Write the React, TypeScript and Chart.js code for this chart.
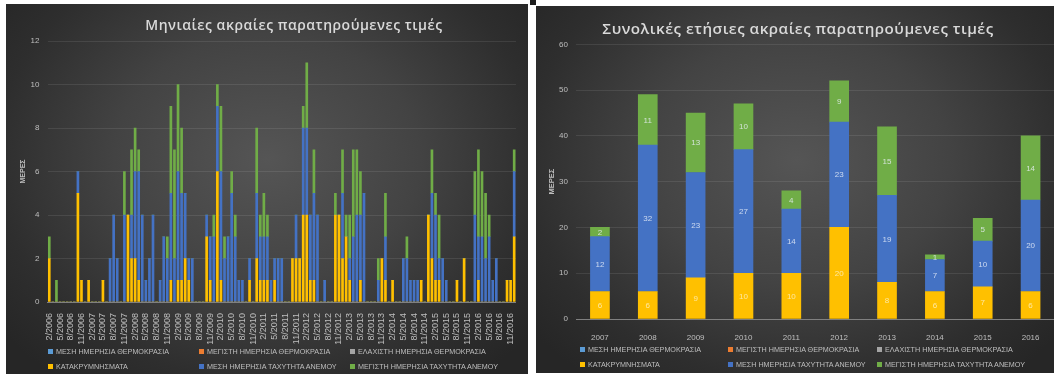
import React, { useEffect, useRef } from 'react';
import { Chart, registerables } from 'chart.js';

Chart.register(...registerables);

const FONT = '"Liberation Sans", Arial, sans-serif';
const TITLE_FONT = '"Open Sans", "Noto Sans", sans-serif';

// ---------- Monthly chart data (2/2006 .. 12/2016) ----------
const MONTHS = [
  '2/2006', '3/2006', '4/2006', '5/2006', '6/2006', '7/2006', '8/2006', '9/2006', '10/2006', '11/2006', '12/2006',
  '1/2007', '2/2007', '3/2007', '4/2007', '5/2007', '6/2007', '7/2007', '8/2007', '9/2007', '10/2007', '11/2007', '12/2007',
  '1/2008', '2/2008', '3/2008', '4/2008', '5/2008', '6/2008', '7/2008', '8/2008', '9/2008', '10/2008', '11/2008', '12/2008',
  '1/2009', '2/2009', '3/2009', '4/2009', '5/2009', '6/2009', '7/2009', '8/2009', '9/2009', '10/2009', '11/2009', '12/2009',
  '1/2010', '2/2010', '3/2010', '4/2010', '5/2010', '6/2010', '7/2010', '8/2010', '9/2010', '10/2010', '11/2010', '12/2010',
  '1/2011', '2/2011', '3/2011', '4/2011', '5/2011', '6/2011', '7/2011', '8/2011', '9/2011', '10/2011', '11/2011', '12/2011',
  '1/2012', '2/2012', '3/2012', '4/2012', '5/2012', '6/2012', '7/2012', '8/2012', '9/2012', '10/2012', '11/2012', '12/2012',
  '1/2013', '2/2013', '3/2013', '4/2013', '5/2013', '6/2013', '7/2013', '8/2013', '9/2013', '10/2013', '11/2013', '12/2013',
  '1/2014', '2/2014', '3/2014', '4/2014', '5/2014', '6/2014', '7/2014', '8/2014', '9/2014', '10/2014', '11/2014', '12/2014',
  '1/2015', '2/2015', '3/2015', '4/2015', '5/2015', '6/2015', '7/2015', '8/2015', '9/2015', '10/2015', '11/2015', '12/2015',
  '1/2016', '2/2016', '3/2016', '4/2016', '5/2016', '6/2016', '7/2016', '8/2016', '9/2016', '10/2016', '11/2016', '12/2016',
];

const PRECIP_M = [
  2, 0, 0, 0, 0, 0, 0, 0, 5, 1, 0,
  1, 0, 0, 0, 1, 0, 0, 0, 0, 0, 0, 4,
  2, 2, 1, 0, 0, 0, 0, 0, 0, 0, 0, 1,
  0, 1, 1, 2, 1, 0, 0, 0, 0, 3, 1, 0,
  6, 1, 0, 0, 0, 0, 0, 0, 0, 1, 0, 2,
  1, 1, 1, 0, 1, 0, 0, 0, 0, 2, 2, 2,
  4, 4, 1, 1, 0, 0, 0, 0, 0, 4, 4, 2,
  3, 1, 0, 0, 1, 0, 0, 0, 0, 0, 2, 1,
  0, 1, 0, 0, 0, 0, 0, 0, 0, 1, 0, 4,
  2, 1, 1, 0, 0, 0, 0, 1, 0, 2, 0, 0,
  0, 1, 0, 0, 0, 0, 0, 0, 0, 1, 1, 3,
];

const WIND_MEAN_M = [
  0, 0, 0, 0, 0, 0, 0, 0, 1, 0, 0,
  0, 0, 0, 0, 0, 0, 2, 4, 2, 0, 4, 0,
  2, 4, 5, 4, 1, 2, 4, 0, 1, 3, 2, 4,
  2, 5, 4, 3, 1, 2, 0, 0, 0, 1, 2, 3,
  3, 5, 2, 3, 5, 3, 1, 1, 0, 1, 0, 3,
  2, 2, 2, 1, 1, 2, 2, 0, 0, 0, 2, 0,
  4, 4, 3, 4, 4, 0, 1, 0, 0, 0, 0, 3,
  0, 1, 3, 4, 3, 5, 0, 0, 0, 1, 0, 2,
  0, 0, 0, 0, 2, 2, 1, 1, 1, 0, 0, 0,
  3, 3, 1, 2, 1, 0, 0, 0, 0, 0, 0, 0,
  4, 2, 3, 2, 3, 1, 2, 0, 0, 0, 0, 3,
];

const WIND_MAX_M = [
  1, 0, 1, 0, 0, 0, 0, 0, 0, 0, 0,
  0, 0, 0, 0, 0, 0, 0, 0, 0, 0, 2, 0,
  3, 2, 1, 0, 0, 0, 0, 0, 0, 0, 1, 4,
  5, 4, 3, 0, 0, 0, 0, 0, 0, 0, 0, 1,
  1, 3, 1, 0, 1, 1, 0, 0, 0, 0, 0, 3,
  1, 2, 1, 0, 0, 0, 0, 0, 0, 0, 0, 0,
  1, 3, 0, 2, 0, 0, 0, 0, 0, 1, 0, 2,
  1, 2, 4, 3, 2, 0, 0, 0, 0, 1, 0, 2,
  0, 0, 0, 0, 0, 1, 0, 0, 0, 0, 0, 0,
  2, 1, 2, 0, 0, 0, 0, 0, 0, 0, 0, 0,
  2, 4, 3, 3, 1, 0, 0, 0, 0, 0, 0, 1,
];

const MONTHLY_Y_TICKS = [0, 2, 4, 6, 8, 10, 12];

// ---------- Yearly chart data ----------
const YEARS = ['2007', '2008', '2009', '2010', '2011', '2012', '2013', '2014', '2015', '2016'];
const PRECIP_Y = [6, 6, 9, 10, 10, 20, 8, 6, 7, 6];
const WIND_MEAN_Y = [12, 32, 23, 27, 14, 23, 19, 7, 10, 20];
const WIND_MAX_Y = [2, 11, 13, 10, 4, 9, 15, 1, 5, 14];
const YEARLY_Y_TICKS = [0, 10, 20, 30, 40, 50, 60];

// ---------- Legend ----------
const SERIES_NAMES = [
  'ΜΕΣΗ ΗΜΕΡΗΣΙΑ ΘΕΡΜΟΚΡΑΣΙΑ',
  'ΜΕΓΙΣΤΗ ΗΜΕΡΗΣΙΑ ΘΕΡΜΟΚΡΑΣΙΑ',
  'ΕΛΑΧΙΣΤΗ ΗΜΕΡΗΣΙΑ ΘΕΡΜΟΚΡΑΣΙΑ',
  'ΚΑΤΑΚΡΥΜΝΗΣΜΑΤΑ',
  'ΜΕΣΗ ΗΜΕΡΗΣΙΑ ΤΑΧΥΤΗΤΑ ΑΝΕΜΟΥ',
  'ΜΕΓΙΣΤΗ ΗΜΕΡΗΣΙΑ ΤΑΧΥΤΗΤΑ ΑΝΕΜΟΥ',
];
const SERIES_COLORS = ['#5B9BD5', '#ED7D31', '#A5A5A5', '#FFC000', '#4472C4', '#70AD47'];

const TEXT = '#bfbfbf';
const GRID = 'rgba(255,255,255,0.09)';
const PANEL_BG =
  'radial-gradient(ellipse 65% 75% at 50% 42%, #555555 0%, #434343 45%, #2e2e2e 80%, #262626 100%)';

function makeDatasets(series: number[][]) {
  return SERIES_NAMES.map((name, i) => ({
    label: name,
    data: i < 3 ? [] : series[i - 3],
    backgroundColor: SERIES_COLORS[i],
    borderWidth: 0,
  }));
}

const segLabels = {
  id: 'segLabels',
  afterDatasetsDraw(chart: any) {
    const ctx = chart.ctx;
    ctx.save();
    ctx.font = `8px ${FONT}`;
    ctx.textAlign = 'center';
    ctx.textBaseline = 'middle';
    chart.data.datasets.forEach((ds: any, di: number) => {
      if (!ds.data.length) return;
      const meta = chart.getDatasetMeta(di);
      meta.data.forEach((el: any, i: number) => {
        const v = ds.data[i];
        if (!v) return;
        const p = el.getProps(['x', 'y', 'base'], true);
        ctx.fillStyle = di === 3 ? 'rgba(255,245,215,0.75)' : 'rgba(235,240,250,0.8)';
        ctx.fillText(String(v), p.x, (p.y + p.base) / 2 + 0.5);
      });
    });
    ctx.restore();
  },
};

function MonthlyChart({ width, height }: { width: number; height: number }) {
  const ref = useRef<HTMLCanvasElement>(null);
  useEffect(() => {
    const chart = new Chart(ref.current as HTMLCanvasElement, {
      type: 'bar',
      data: {
        labels: MONTHS,
        datasets: makeDatasets([PRECIP_M, WIND_MEAN_M, WIND_MAX_M]) as any,
      },
      options: {
        responsive: false,
        animation: false,
        devicePixelRatio: 1,
        layout: { padding: { top: 37, right: 3, left: 0, bottom: 0 } },
        datasets: { bar: { barThickness: 2 } } as any,
        plugins: { legend: { display: false }, title: { display: false }, tooltip: { enabled: false } },
        scales: {
          x: {
            stacked: true,
            grid: { display: false },
            border: { color: '#808080' },
            ticks: {
              autoSkip: false,
              minRotation: 90,
              maxRotation: 90,
              padding: 3,
              color: TEXT,
              font: { size: 9, family: FONT },
              callback: (_v: any, i: number) => (i % 3 === 0 ? MONTHS[i] : ''),
            },
            afterFit: (s: any) => {
              s.height = 72;
            },
          },
          y: {
            stacked: true,
            min: MONTHLY_Y_TICKS[0],
            max: MONTHLY_Y_TICKS[MONTHLY_Y_TICKS.length - 1],
            afterBuildTicks: (s: any) => {
              s.ticks = MONTHLY_Y_TICKS.map((v) => ({ value: v }));
            },
            grid: { color: GRID, drawTicks: false },
            border: { display: false },
            ticks: { padding: 8, color: TEXT, font: { size: 8, family: FONT } },
            title: {
              display: true,
              text: 'ΜΕΡΕΣ',
              color: TEXT,
              font: { size: 7, weight: 'bold', family: FONT },
              padding: { top: 13, bottom: 0 },
            },
            afterFit: (s: any) => {
              s.width = 41.5;
            },
          },
        },
      } as any,
    });
    return () => chart.destroy();
  }, []);
  return <canvas ref={ref} width={width} height={height} style={{ width, height, display: 'block' }} />;
}

function YearlyChart({ width, height }: { width: number; height: number }) {
  const ref = useRef<HTMLCanvasElement>(null);
  useEffect(() => {
    const chart = new Chart(ref.current as HTMLCanvasElement, {
      type: 'bar',
      data: {
        labels: YEARS,
        datasets: makeDatasets([PRECIP_Y, WIND_MEAN_Y, WIND_MAX_Y]) as any,
      },
      options: {
        responsive: false,
        animation: false,
        devicePixelRatio: 1,
        layout: { padding: { top: 38.3, right: 3.5, left: 0, bottom: 0 } },
        datasets: { bar: { barThickness: 19 } } as any,
        plugins: { legend: { display: false }, title: { display: false }, tooltip: { enabled: false } },
        scales: {
          x: {
            stacked: true,
            grid: { display: false },
            border: { color: '#808080' },
            ticks: { padding: 6, color: TEXT, font: { size: 8, family: FONT }, maxRotation: 0 },
            afterFit: (s: any) => {
              s.height = 54;
            },
          },
          y: {
            stacked: true,
            min: YEARLY_Y_TICKS[0],
            max: YEARLY_Y_TICKS[YEARLY_Y_TICKS.length - 1],
            afterBuildTicks: (s: any) => {
              s.ticks = YEARLY_Y_TICKS.map((v) => ({ value: v }));
            },
            grid: { color: GRID, drawTicks: false },
            border: { display: false },
            ticks: { padding: 8, color: TEXT, font: { size: 8, family: FONT } },
            title: {
              display: true,
              text: 'ΜΕΡΕΣ',
              color: TEXT,
              font: { size: 7.5, weight: 'bold', family: FONT },
              padding: { top: 11.5, bottom: 0 },
            },
            afterFit: (s: any) => {
              s.width = 40;
            },
          },
        },
      } as any,
      plugins: [segLabels],
    });
    return () => chart.destroy();
  }, []);
  return <canvas ref={ref} width={width} height={height} style={{ width, height, display: 'block' }} />;
}

function Legend({ cols, rows }: { cols: number[]; rows: number[] }) {
  return (
    <>
      {SERIES_NAMES.map((name, i) => {
        const c = i % 3;
        const r = Math.floor(i / 3);
        return (
          <div
            key={name}
            style={{
              position: 'absolute',
              left: cols[c],
              top: rows[r] - 5,
              height: 10,
              display: 'flex',
              alignItems: 'center',
              whiteSpace: 'nowrap',
              fontFamily: FONT,
              fontSize: 7.2,
              color: TEXT,
            }}
          >
            <span
              style={{ display: 'inline-block', width: 5, height: 5, background: SERIES_COLORS[i], marginRight: 3 }}
            />
            {name}
          </div>
        );
      })}
    </>
  );
}

function Title({ text, cx, cy, size }: { text: string; cx: number; cy: number; size: number }) {
  return (
    <div
      style={{
        position: 'absolute',
        left: cx - 300,
        width: 600,
        top: cy - size * 0.7,
        textAlign: 'center',
        fontFamily: TITLE_FONT,
        fontWeight: 600,
        fontSize: size,
        letterSpacing: 0.5,
        color: '#d9d9d9',
        whiteSpace: 'nowrap',
        lineHeight: `${size * 1.4}px`,
      }}
    >
      {text}
    </div>
  );
}

export default function App() {
  // panel geometry (page pixels)
  const L = { x: 6, y: 4, w: 522, h: 370 };
  const R = { x: 536, y: 6, w: 522, h: 367 };
  return (
    <div
      style={{
        position: 'absolute',
        left: 0,
        top: 0,
        width: 1054,
        height: 376,
        overflow: 'hidden',
        background: '#ffffff',
      }}
    >
      <div style={{ position: 'absolute', left: 530, top: 0, width: 6, height: 5, background: '#1e1e1e' }} />
      <div style={{ position: 'absolute', left: L.x, top: L.y, width: L.w, height: L.h, background: PANEL_BG }}>
        <MonthlyChart width={L.w} height={L.h} />
      </div>
      <div style={{ position: 'absolute', left: R.x, top: R.y, width: R.w, height: R.h, background: PANEL_BG }}>
        <YearlyChart width={R.w} height={R.h} />
      </div>
      <Title text="Μηνιαίες ακραίες παρατηρούμενες τιμές" cx={294} cy={25} size={14} />
      <Title text="Συνολικές ετήσιες ακραίες παρατηρούμενες τιμές" cx={798} cy={29} size={15.2} />
      <Legend cols={[48, 199, 350]} rows={[351, 366.5]} />
      <Legend cols={[580, 728, 877]} rows={[349, 364]} />
    </div>
  );
}
